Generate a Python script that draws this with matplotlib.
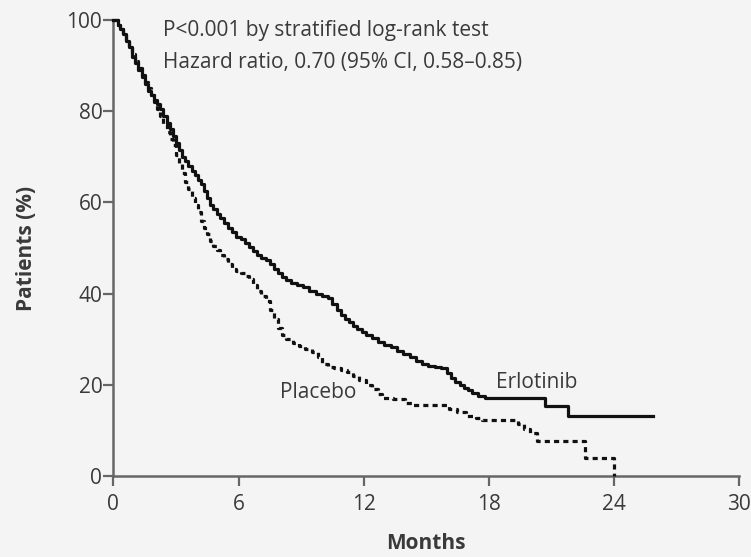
import matplotlib
matplotlib.use("Agg")
import matplotlib.pyplot as plt

# Kaplan-Meier curves (months, % of patients)
erlo_t = [0, 0.2, 0.3, 0.45, 0.6, 0.75, 0.9, 1.05, 1.2, 1.35, 1.5, 1.65, 1.8, 1.95,
          2.1, 2.25, 2.4, 2.55, 2.7, 2.85, 3.0, 3.15, 3.3, 3.45, 3.6, 3.75, 3.9, 4.05,
          4.2, 4.35, 4.5, 4.65, 4.8, 4.95, 5.1, 5.3, 5.5, 5.7, 5.9, 6.1, 6.3, 6.5, 6.7,
          6.9, 7.1, 7.3, 7.5, 7.7, 7.9, 8.1, 8.3, 8.5, 8.8, 9.1, 9.4, 9.7, 10.0, 10.3,
          10.5, 10.7, 10.9, 11.1, 11.3, 11.5, 11.7, 11.9, 12.1, 12.4, 12.7, 13.0, 13.3,
          13.6, 13.9, 14.2, 14.5, 14.8, 15.1, 15.4, 15.7, 16.0, 16.2, 16.4, 16.6, 16.8,
          17.0, 17.2, 17.5, 17.8, 20.7, 21.8, 25.9]
erlo_s = [100, 99, 98, 97, 95.5, 94, 92, 90.5, 89, 87.5, 86, 84.5, 83.5, 82.5,
          81.5, 80.5, 79, 77.5, 76, 74.5, 73, 71.5, 70, 69, 68, 67, 66, 65,
          64, 62.5, 61, 59.5, 58.5, 57.5, 56.5, 55.5, 54.5, 53.5, 52.5, 52, 51, 50.2, 49.3,
          48.5, 47.8, 47.3, 46.5, 45.5, 44.5, 43.6, 43, 42.3, 41.8, 41.5, 40.5, 40, 39.5, 39,
          37.8, 36.5, 35.3, 34.5, 33.8, 33, 32.3, 31.5, 30.9, 30.2, 29.5, 28.8, 28.2,
          27.5, 26.8, 26, 25.2, 24.6, 24.1, 23.8, 23.6, 22.6, 21.5, 20.6, 20, 19.4,
          18.8, 18.2, 17.6, 17.1, 15.3, 13.1, 13.1]

plac_t = [0, 0.2, 0.3, 0.45, 0.6, 0.75, 0.9, 1.05, 1.2, 1.35, 1.5, 1.65, 1.8, 1.95,
          2.1, 2.25, 2.4, 2.55, 2.7, 2.85, 3.0, 3.15, 3.3, 3.45, 3.6, 3.75, 3.9, 4.05,
          4.2, 4.35, 4.5, 4.65, 4.8, 4.95, 5.1, 5.3, 5.5, 5.7, 5.9, 6.1, 6.3, 6.5, 6.7,
          6.9, 7.1, 7.3, 7.5, 7.7, 7.9, 8.1, 8.3, 8.6, 8.9, 9.2, 9.5, 9.8, 10.0, 10.3,
          10.6, 10.9, 11.2, 11.5, 11.8, 12.1, 12.4, 12.7, 12.9, 13.4, 14.0, 14.3, 15.7,
          16.1, 16.5, 16.9, 17.4, 17.7, 19.4, 19.7, 20.0, 20.3, 22.6, 24.0]
plac_s = [100, 99, 98, 96.8, 95.5, 94, 92.5, 91, 89.5, 88, 86.5, 85, 83.5, 82,
          80.5, 79, 77, 75.5, 74, 72.5, 70.5, 68.5, 66.5, 64.5, 63, 61, 59.5, 58,
          56, 54.5, 53, 51.5, 50.5, 49.5, 48.5, 47.5, 46.5, 45.5, 45, 44.5, 43.8, 43.2, 42,
          40.5, 39.5, 38.3, 36.5, 34.5, 32.5, 31, 30, 29.2, 28.5, 27.8, 27.2, 26, 24.5, 24,
          23.6, 23.3, 22.8, 22, 21, 20, 19, 18, 17.2, 16.8, 16, 15.6, 15.6,
          14.8, 14, 13.2, 12.8, 12.3, 11.4, 10.4, 9.4, 7.7, 4.0, 0]

x_ticks = [0, 6, 12, 18, 24, 30]
y_ticks = [0, 20, 40, 60, 80, 100]

bg = "#f4f4f4"
grey = "#666666"
txt = "#3a3a3a"
fs = 15

plt.rcParams["font.family"] = ["Open Sans", "DejaVu Sans"]

fig = plt.figure(figsize=(7.51, 5.57), dpi=100, facecolor=bg)
ax = fig.add_axes([0.151, 0.1454, 0.833, 0.8186])
ax.set_facecolor(bg)

ax.plot(erlo_t, erlo_s, drawstyle="steps-post", color="#111111", lw=2.3,
        clip_on=False, zorder=3)
ax.plot(plac_t, plac_s, drawstyle="steps-post", color="#111111", lw=2.3,
        linestyle=(0, (1.6, 1.3)), clip_on=False, zorder=3)

ax.set_xlim(0, 30)
ax.set_ylim(0, 100)
ax.set_xticks(x_ticks)
ax.set_yticks(y_ticks)

for s in ["top", "right"]:
    ax.spines[s].set_visible(False)
for s in ["left", "bottom"]:
    ax.spines[s].set_color(grey)
    ax.spines[s].set_linewidth(1.8)

ax.tick_params(axis="both", direction="out", length=7, width=1.6, color=grey,
               labelsize=fs, labelcolor=txt)
ax.tick_params(axis="x", pad=6)
ax.tick_params(axis="y", pad=1)

ax.set_xlabel("Months", fontsize=fs, fontweight="bold", color=txt, labelpad=13)
ax.set_ylabel("Patients (%)", fontsize=fs, fontweight="bold", color=txt, labelpad=21)

ax.text(2.37, 97.7, "P<0.001 by stratified log-rank test", fontsize=fs, color=txt,
        va="center", ha="left")
ax.text(2.37, 90.6, "Hazard ratio, 0.70 (95% CI, 0.58\u20130.85)", fontsize=fs, color=txt,
        va="center", ha="left")
ax.text(20.3, 20.6, "Erlotinib", fontsize=fs, color=txt, va="center", ha="center")
ax.text(9.8, 18.4, "Placebo", fontsize=fs, color=txt, va="center", ha="center")

fig.savefig("out.png", dpi=100, facecolor=bg)
